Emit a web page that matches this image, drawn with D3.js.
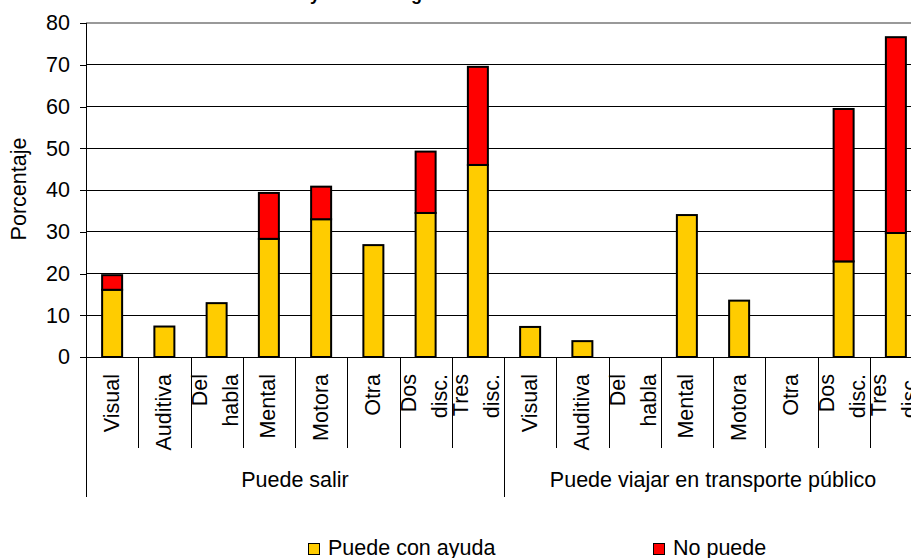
<!DOCTYPE html>
<html><head><meta charset="utf-8">
<script src="https://cdn.jsdelivr.net/npm/d3@7"></script>
<style>
html,body{margin:0;padding:0;background:#fff;overflow:hidden}
text{font-family:"Liberation Sans",Arial,sans-serif;fill:#000}
</style></head>
<body>
<svg id="c" width="911" height="558"></svg>
<script>
// ---- data ----
const titleText = "Movilidad y acceso según condición";
const groups = ["Puede salir", "Puede viajar en transporte público"];
const categories = ["Visual", "Auditiva", "Del\nhabla", "Mental", "Motora", "Otra", "Dos\ndisc.", "Tres\ndisc."];
const seriesNames = ["Puede con ayuda", "No puede"];
const salirConAyuda = [16.1, 7.3, 12.9, 28.3, 33.0, 26.8, 34.5, 46.0];
const salirNoPuede  = [3.5, 0, 0, 11.0, 7.8, 0, 14.7, 23.5];
const transConAyuda = [7.2, 3.8, 0, 34.0, 13.5, 0, 22.9, 29.7];
const transNoPuede  = [0, 0, 0, 0, 0, 0, 36.5, 46.9];
const yTicks = [0, 10, 20, 30, 40, 50, 60, 70, 80];
const colors = ["#FFCC00", "#FF0000"];

(function () {
// ---- build rows ----
const rows = [];
groups.forEach((g, gi) => {
  const a = gi === 0 ? salirConAyuda : transConAyuda;
  const b = gi === 0 ? salirNoPuede : transNoPuede;
  categories.forEach((c, ci) => rows.push({key: gi + "-" + ci, group: g, cat: c, v0: a[ci], v1: b[ci]}));
});

const FS = "21.5px";
const svg = d3.select("#c");
const pL = 86, pR = 922, pT = 23, pB = 357;
const x = d3.scaleBand().domain(rows.map(r => r.key)).range([pL, pR]).padding(0);
const y = d3.scaleLinear().domain([0, 80]).range([pB, pT]);
const bw = 20;
const step = x.step();

// title (mostly above the canvas, as in the reference)
svg.append("text").attr("x", 222).attr("y", -0.5).style("font-size", "18px").style("font-weight", "bold").text(titleText);

// gridlines
svg.append("g").selectAll("line").data(yTicks.filter(t => t > 0 && t < 80)).join("line")
  .attr("x1", pL).attr("x2", pR).attr("y1", d => y(d)).attr("y2", d => y(d))
  .attr("stroke", "#000").attr("stroke-width", 1).attr("shape-rendering", "crispEdges");
svg.append("line").attr("x1", pL).attr("x2", pR).attr("y1", y(80)).attr("y2", y(80))
  .attr("stroke", "#999").attr("stroke-width", 2).attr("shape-rendering", "crispEdges");

// y axis
const ya = svg.append("g").attr("transform", `translate(${pL},0)`)
  .call(d3.axisLeft(y).tickValues(yTicks).tickSize(6).tickPadding(10).tickFormat(d3.format("d")));
ya.select(".domain").remove();
ya.selectAll(".tick line").attr("stroke", "#000").attr("shape-rendering", "crispEdges");
ya.selectAll(".tick text").style("font-size", FS).style("font-family", '"Liberation Sans",Arial,sans-serif').attr("fill", "#000");
svg.append("line").attr("x1", pL).attr("x2", pL).attr("y1", pT).attr("y2", 497)
  .attr("stroke", "#000").attr("shape-rendering", "crispEdges");
// baseline
svg.append("line").attr("x1", pL).attr("x2", pR).attr("y1", pB).attr("y2", pB)
  .attr("stroke", "#000").attr("shape-rendering", "crispEdges");

// y label
svg.append("text").attr("transform", "translate(26,189) rotate(-90)").attr("text-anchor", "middle")
  .style("font-size", FS).text("Porcentaje");

// bars
const bars = svg.append("g");
rows.forEach(r => {
  const bx = x(r.key) + (step - bw) / 2;
  if (r.v0 > 0) bars.append("rect").attr("x", bx).attr("width", bw).attr("y", y(r.v0)).attr("height", y(0) - y(r.v0))
    .attr("fill", colors[0]).attr("stroke", "#000").attr("stroke-width", 2);
  if (r.v1 > 0) bars.append("rect").attr("x", bx).attr("width", bw).attr("y", y(r.v0 + r.v1)).attr("height", y(r.v0) - y(r.v0 + r.v1))
    .attr("fill", colors[1]).attr("stroke", "#000").attr("stroke-width", 2);
});

// category separators
rows.forEach((r, i) => {
  const xx = Math.round(x(r.key));
  const isGroup = i % categories.length === 0;
  svg.append("line").attr("x1", xx).attr("x2", xx).attr("y1", pB).attr("y2", isGroup ? 497 : 448)
    .attr("stroke", "#000").attr("shape-rendering", "crispEdges");
});
svg.append("line").attr("x1", pR).attr("x2", pR).attr("y1", pB).attr("y2", 497).attr("stroke", "#000");

// category labels
rows.forEach(r => {
  const cx = x(r.key) + step / 2;
  const lines = r.cat.split("\n");
  lines.forEach((ln, li) => {
    let bx;
    if (lines.length === 1) bx = cx + 6.5;
    else bx = cx + (li === 0 ? -9.5 : 21.5);
    svg.append("text").attr("transform", `translate(${bx},374) rotate(-90)`).attr("text-anchor", "end")
      .style("font-size", FS).text(ln);
  });
});

// group labels
groups.forEach((g, gi) => {
  const k0 = rows[gi * categories.length].key, k1 = rows[gi * categories.length + categories.length - 1].key;
  const cx = (x(k0) + x(k1) + step) / 2;
  svg.append("text").attr("x", cx).attr("y", 487).attr("text-anchor", "middle").style("font-size", FS).text(g);
});

// legend
const legX = [308.5, 653.5];
seriesNames.forEach((s, i) => {
  svg.append("rect").attr("x", legX[i]).attr("y", 543.5).attr("width", 11).attr("height", 11)
    .attr("fill", colors[i]).attr("stroke", "#000").attr("stroke-width", 1);
  svg.append("text").attr("x", legX[i] + 19.5).attr("y", 555).style("font-size", FS).text(s);
});
})();
</script>
</body></html>
